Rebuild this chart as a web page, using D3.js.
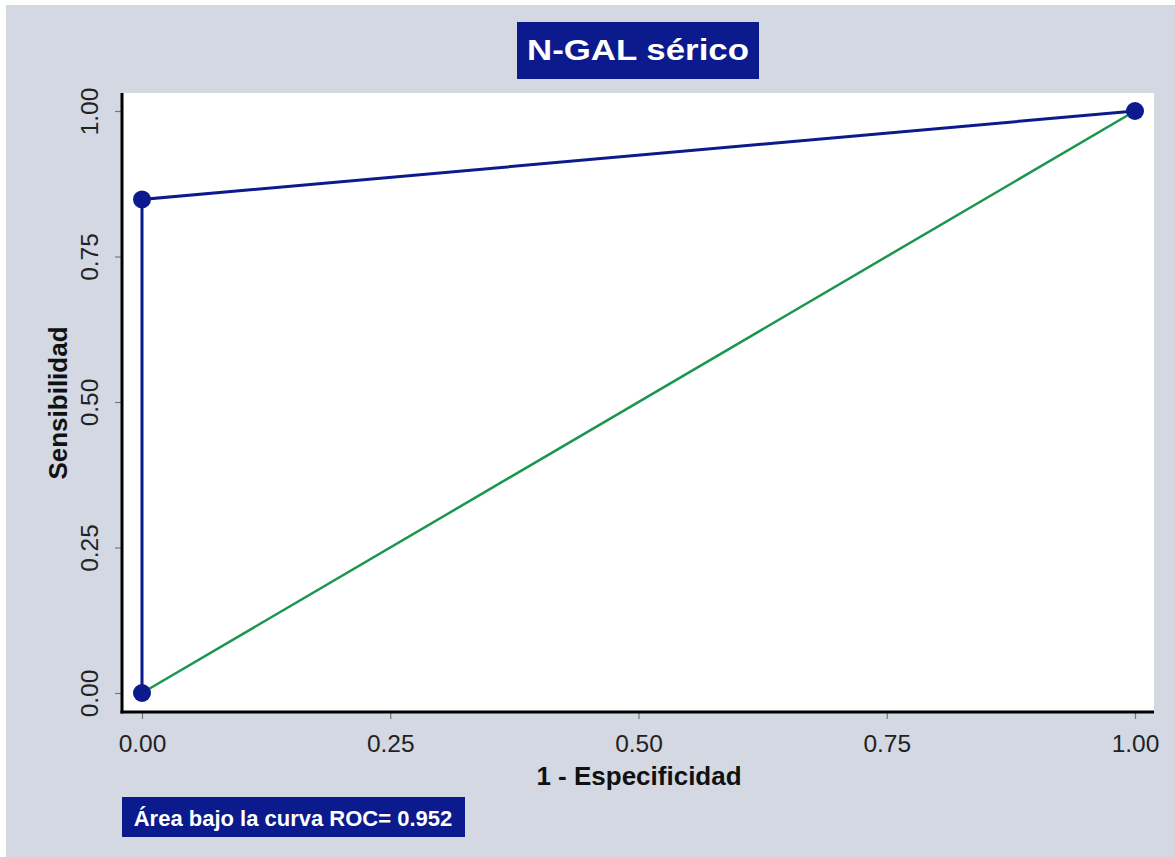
<!DOCTYPE html>
<html>
<head>
<meta charset="utf-8">
<script src="https://cdn.jsdelivr.net/npm/d3@7"></script>
<style>
  body { margin: 0; background: #fff; }
  svg { display: block; font-family: "Liberation Sans", Arial, sans-serif; }
</style>
</head>
<body>
<div id="chart"></div>
<script>
// ROC curve points (1 - specificity, sensitivity)
const rocX = [0, 0, 1];
const rocY = [0, 0.848, 1];
// reference diagonal
const refX = [0, 1];
const refY = [0, 1];
const tickValues = [0, 0.25, 0.5, 0.75, 1];
const titleText = "N-GAL sérico";
const aucText = "Área bajo la curva ROC= 0.952";

const width = 1175, height = 857;
const navy = "#0b1a8c", green = "#1a9650", bg = "#d3d8e3";

const svg = d3.select("#chart")
  .append("svg")
  .attr("width", width)
  .attr("height", height);

// background (white strip top/left like the screenshot)
svg.append("rect")
  .attr("x", 6).attr("y", 5)
  .attr("width", width - 6).attr("height", height - 5)
  .attr("fill", bg);

// plot area
const plot = { left: 122, top: 93, right: 1154, bottom: 712 };
svg.append("rect")
  .attr("x", plot.left).attr("y", plot.top)
  .attr("width", plot.right - plot.left).attr("height", plot.bottom - plot.top)
  .attr("fill", "#fff");

const x = d3.scaleLinear().domain([0, 1]).range([142, 1135]);
const y = d3.scaleLinear().domain([0, 1]).range([693, 111]);

// X axis
const xAxis = svg.append("g")
  .attr("transform", `translate(0,${plot.bottom})`)
  .call(d3.axisBottom(x).tickValues(tickValues).tickFormat(d3.format(".2f")).tickSize(7).tickSizeOuter(0));
xAxis.select(".domain").remove();
xAxis.selectAll(".tick line").attr("stroke", "#777").attr("stroke-width", 1.2);
xAxis.selectAll(".tick text")
  .attr("y", 40).attr("dy", 0)
  .attr("font-size", "24.5px")
  .attr("fill", "#222")
  .attr("font-family", "Liberation Sans, Arial, sans-serif");

// Y axis
const yAxis = svg.append("g")
  .attr("transform", `translate(${plot.left},0)`)
  .call(d3.axisLeft(y).tickValues(tickValues).tickFormat(d3.format(".2f")).tickSize(7).tickSizeOuter(0));
yAxis.select(".domain").remove();
yAxis.selectAll(".tick line").attr("stroke", "#777").attr("stroke-width", 1.2);
yAxis.selectAll(".tick text")
  .attr("x", 0).attr("dy", 0).attr("y", 0)
  .attr("text-anchor", "middle")
  .attr("transform", "translate(-24,0) rotate(-90)")
  .attr("font-size", "24.5px")
  .attr("fill", "#222")
  .attr("font-family", "Liberation Sans, Arial, sans-serif");

// axis lines
svg.append("line")
  .attr("x1", plot.left).attr("x2", plot.left)
  .attr("y1", plot.top).attr("y2", plot.bottom + 1.5)
  .attr("stroke", "#000").attr("stroke-width", 3);
svg.append("line")
  .attr("x1", plot.left - 1.5).attr("x2", plot.right)
  .attr("y1", plot.bottom).attr("y2", plot.bottom)
  .attr("stroke", "#000").attr("stroke-width", 3);

// reference line
const refData = refX.map((v, i) => [v, refY[i]]);
svg.append("path")
  .datum(refData)
  .attr("d", d3.line().x(d => x(d[0])).y(d => y(d[1])))
  .attr("fill", "none")
  .attr("stroke", green)
  .attr("stroke-width", 2.5);

// ROC curve
const rocData = rocX.map((v, i) => [v, rocY[i]]);
svg.append("path")
  .datum(rocData)
  .attr("d", d3.line().x(d => x(d[0])).y(d => y(d[1])))
  .attr("fill", "none")
  .attr("stroke", navy)
  .attr("stroke-width", 3);

svg.selectAll("circle.pt")
  .data(rocData)
  .enter().append("circle")
  .attr("class", "pt")
  .attr("cx", d => x(d[0]))
  .attr("cy", d => y(d[1]))
  .attr("r", 9)
  .attr("fill", navy);

// axis titles
svg.append("text")
  .attr("text-anchor", "middle")
  .attr("x", 639).attr("y", 785)
  .attr("font-size", "26px")
  .attr("font-weight", "bold")
  .attr("fill", "#111")
  .text("1 - Especificidad");

svg.append("text")
  .attr("text-anchor", "middle")
  .attr("transform", "translate(67,403) rotate(-90)")
  .attr("font-size", "26px")
  .attr("font-weight", "bold")
  .attr("fill", "#111")
  .text("Sensibilidad");

// title box
svg.append("rect")
  .attr("x", 517).attr("y", 22)
  .attr("width", 242).attr("height", 57)
  .attr("fill", navy);
svg.append("text")
  .attr("text-anchor", "middle")
  .attr("x", 638).attr("y", 60)
  .attr("font-size", "30px")
  .attr("font-weight", "bold")
  .attr("fill", "#fff")
  .attr("textLength", 222)
  .attr("lengthAdjust", "spacingAndGlyphs")
  .text(titleText);

// AUC box
svg.append("rect")
  .attr("x", 122).attr("y", 797)
  .attr("width", 343).attr("height", 40)
  .attr("fill", navy);
svg.append("text")
  .attr("text-anchor", "middle")
  .attr("x", 293).attr("y", 826)
  .attr("font-size", "22px")
  .attr("font-weight", "bold")
  .attr("fill", "#fff")
  .text(aucText);
</script>
</body>
</html>
